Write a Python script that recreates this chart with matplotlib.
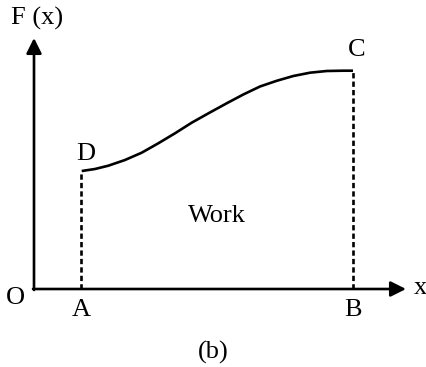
"""Force-displacement sketch: work done as the area under F(x) between A and B."""

import matplotlib
matplotlib.use("Agg")
import matplotlib.pyplot as plt

curve_x = [47.7, 61, 74.3, 91, 107.7, 124.3, 141, 157.7, 175, 192.7, 209.3, 226,
           242.7, 259.3, 276, 292.7, 309.3, 319]
curve_f = [118, 120, 123.3, 129, 136.3, 145.7, 155.7, 166.3, 176, 185.7, 194.5, 202.5,
           208.2, 213, 216.3, 218, 218.3, 218.3]

x_a = 47
x_b = 319
x_axis_end = 372
y_axis_end = 251

plt.rcParams["font.family"] = ["Liberation Serif", "DejaVu Serif"]

fig = plt.figure(figsize=(4.26, 3.67), dpi=100)
ax = fig.add_axes([0, 0, 1, 1])
ax.set_xlim(-34, 392)
ax.set_ylim(-78, 289)
ax.axis("off")

lw = 1.9
arrow = dict(arrowstyle="-|>,head_length=0.4,head_width=0.2", lw=lw, color="black",
             mutation_scale=23, shrinkA=0, shrinkB=0)
ax.annotate("", xy=(x_axis_end, 0), xytext=(-1, 0), arrowprops=arrow)
ax.annotate("", xy=(0, y_axis_end), xytext=(0, -1), arrowprops=arrow)

ax.plot(curve_x, curve_f, color="black", lw=lw, solid_capstyle="butt",
        solid_joinstyle="round")
dash = (0, (2.0, 1.2))
ax.plot([x_a, x_a], [0, curve_f[0]], color="black", lw=lw, linestyle=dash)
ax.plot([x_b, x_b], [0, curve_f[-1]], color="black", lw=lw, linestyle=dash)

fs = 19
ax.text(3, 271, "F (x)", fontsize=fs, ha="center", va="center")
ax.text(-19, -9, "O", fontsize=fs, ha="center", va="center")
ax.text(x_a, -21, "A", fontsize=fs, ha="center", va="center")
ax.text(x_b, -21, "B", fontsize=fs, ha="center", va="center")
ax.text(386, 1, "x", fontsize=fs, ha="center", va="center")
ax.text(52, 135, "D", fontsize=fs, ha="center", va="center")
ax.text(323, 239, "C", fontsize=fs, ha="center", va="center")
ax.text(183, 73, "Work", fontsize=fs, ha="center", va="center")
ax.text(179, -63, "(b)", fontsize=fs, ha="center", va="center")

fig.savefig("out.png", dpi=100)
